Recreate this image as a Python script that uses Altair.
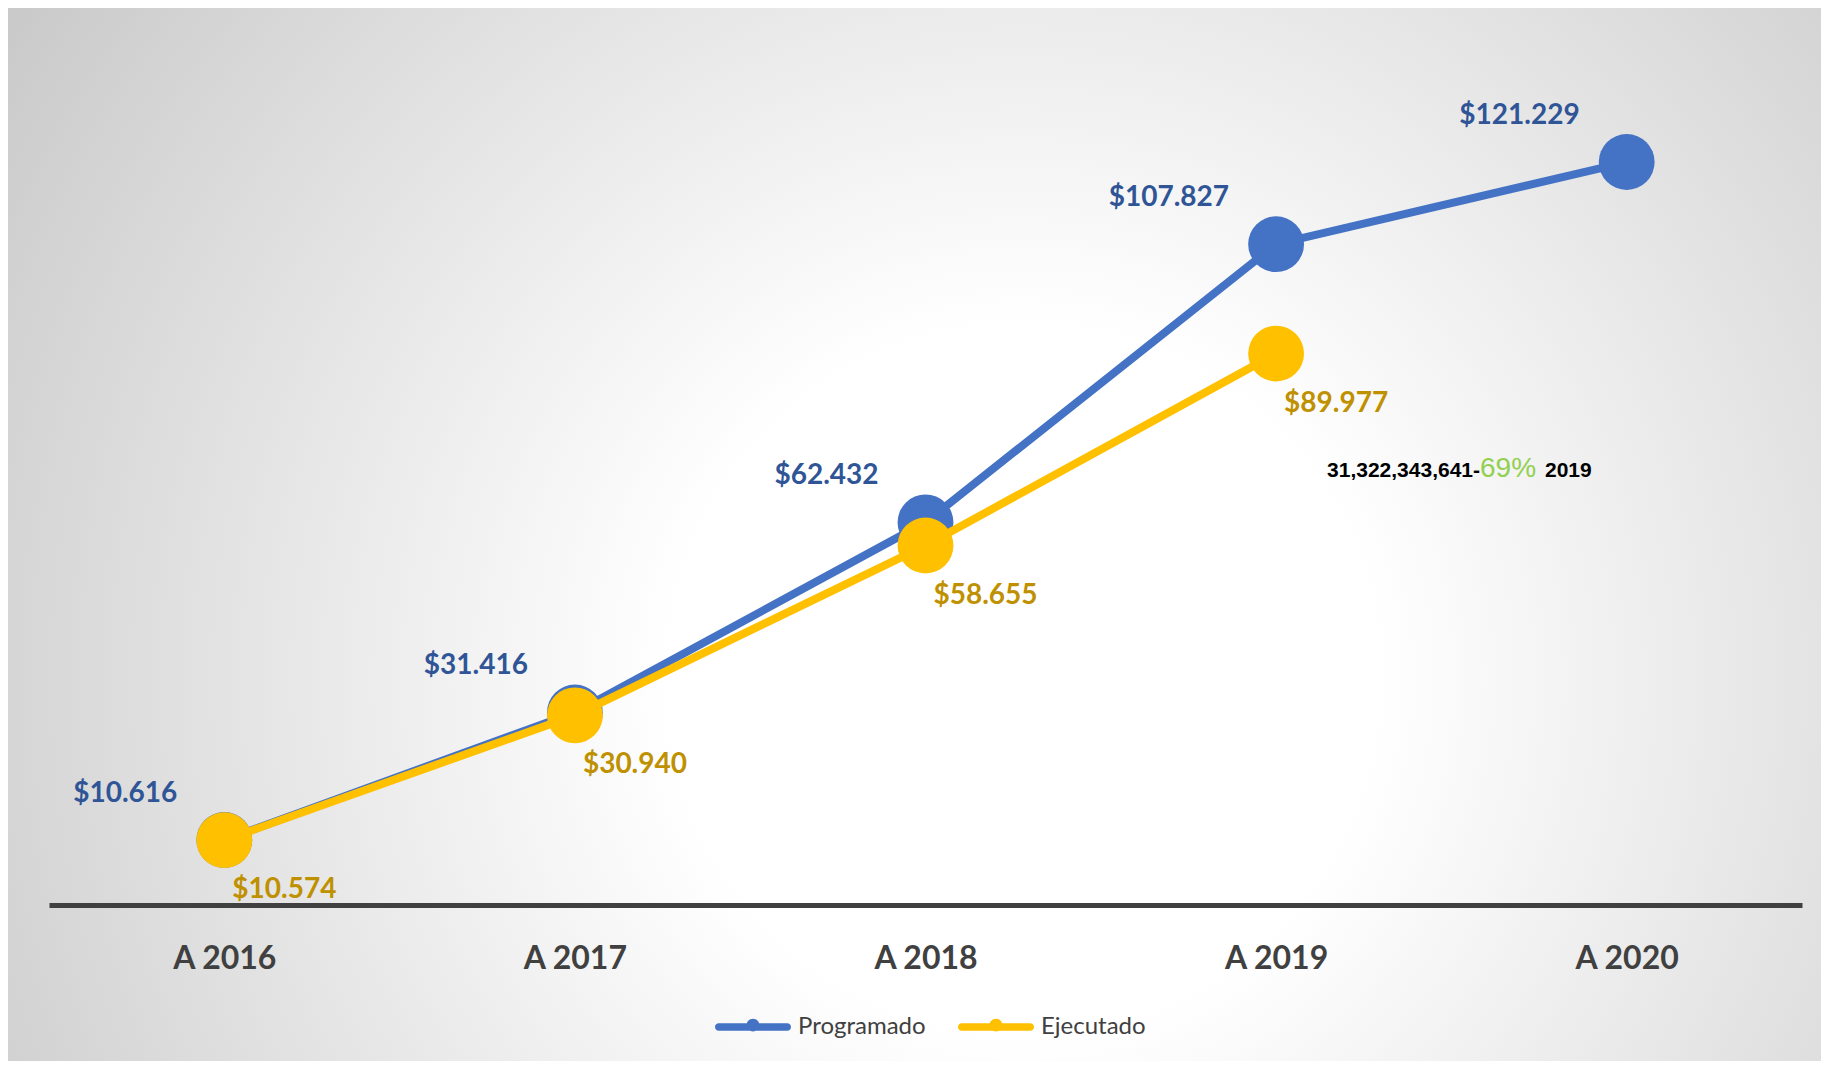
import altair as alt
import pandas as pd

years = ["A 2016", "A 2017", "A 2018", "A 2019", "A 2020"]
programado = [10.616, 31.416, 62.432, 107.827, 121.229]
ejecutado = [10.574, 30.940, 58.655, 89.977, None]
prog_labels = ["$10.616", "$31.416", "$62.432", "$107.827", "$121.229"]
ejec_labels = ["$10.574", "$30.940", "$58.655", "$89.977", None]
series = ["Programado", "Ejecutado"]
note_parts = ["31,322,343,641-", "69%", "2019"]

rows = []
for i, yr in enumerate(years):
    rows.append(dict(year=yr, serie="Programado", value=programado[i], label=prog_labels[i]))
    if ejecutado[i] is not None:
        rows.append(dict(year=yr, serie="Ejecutado", value=ejecutado[i], label=ejec_labels[i]))
df = pd.DataFrame(rows)

W, H = 1753, 858
PL, PT, PR, PB = 41, 39, 19, 156

BLUE, YELLOW = "#4472C4", "#FFC000"

xenc = alt.X("year:N", sort=years, scale=alt.Scale(type="point", padding=0.5),
             axis=alt.Axis(title=None, ticks=False, tickSize=0, domainColor="#404040", domainWidth=5,
                           labelFont="Lato", labelFontWeight="bold", labelFontSize=32,
                           labelColor="#404040", labelPadding=38, labelAngle=0, zindex=1))
yenc = alt.Y("value:Q", scale=alt.Scale(domain=[0, 140], nice=False, zero=True), axis=None)

gradient = {
    "gradient": "radial",
    "stops": [
        {"offset": 0, "color": "#ffffff"},
        {"offset": 0.25, "color": "#ffffff"},
        {"offset": 1, "color": "#bdbdbd"},
    ],
    "x1": 0.56, "y1": 0.58, "r1": 0,
    "x2": 0.56, "y2": 0.58, "r2": 0.78,
}

bg = alt.Chart(alt.Data(values=[{"a": 1}])).mark_rect(color=gradient).encode(
    x=alt.value(-PL), x2=alt.value(W + PR), y=alt.value(-PT), y2=alt.value(H + PB)
)

legend_path = ("M-0.9,-0.1 L0.9,-0.1 A0.1,0.1 0 0,1 0.9,0.1 L-0.9,0.1 A0.1,0.1 0 0,1 -0.9,-0.1 Z "
               "M-0.17,-0.05 A0.17,0.17 0 1,1 0.17,-0.05 A0.17,0.17 0 1,1 -0.17,-0.05 Z")

color = alt.Color("serie:N", scale=alt.Scale(domain=series, range=[BLUE, YELLOW]),
                  legend=alt.Legend(orient="none", legendX=666, legendY=942, direction="horizontal",
                                    title=None, symbolType=legend_path, symbolSize=5776,
                                    symbolStrokeWidth=0, labelFont="Lato", labelFontSize=24,
                                    labelColor="#404040", labelOffset=7, columnPadding=32, padding=0))

base = alt.Chart(df).encode(x=xenc, y=yenc)


def series_layers(name, col):
    f = alt.datum.serie == name
    ln = base.transform_filter(f).mark_line(color=col, strokeWidth=8, strokeCap="round", strokeJoin="round")
    pt = base.transform_filter(f).mark_circle(size=3117, opacity=1).encode(color=color)
    return ln, pt


lp, pp = series_layers("Programado", BLUE)
le, pe = series_layers("Ejecutado", YELLOW)

tp = base.transform_filter(alt.datum.serie == "Programado").mark_text(
    font="Lato", fontWeight="bold", fontSize=28, color="#2F5597", align="right",
    baseline="middle", dx=-47, dy=-46).encode(text="label:N")
te = base.transform_filter(alt.datum.serie == "Ejecutado").mark_text(
    font="Lato", fontWeight="bold", fontSize=28, color="#BF9000", align="left",
    baseline="middle", dx=8, dy=50).encode(text="label:N")

n1 = alt.Chart(alt.Data(values=[{"t": note_parts[0]}])).mark_text(
    font="Liberation Sans", fontWeight="bold", fontSize=21, color="#000000", align="right",
    baseline="alphabetic").encode(text="t:N", x=alt.value(1431), y=alt.value(430))
n2 = alt.Chart(alt.Data(values=[{"t": note_parts[1]}])).mark_text(
    font="Liberation Sans", fontSize=28, color="#92D050", align="left",
    baseline="alphabetic").encode(text="t:N", x=alt.value(1431), y=alt.value(430))
n3 = alt.Chart(alt.Data(values=[{"t": note_parts[2]}])).mark_text(
    font="Liberation Sans", fontWeight="bold", fontSize=21, color="#000000", align="left",
    baseline="alphabetic").encode(text="t:N", x=alt.value(1496), y=alt.value(430))

chart = alt.layer(bg, lp, pp, le, pe, tp, te, n1, n2, n3).properties(
    width=W, height=H,
    autosize=alt.AutoSizeParams(type="none"),
    padding={"left": PL, "top": PT, "right": PR, "bottom": PB},
    background="#d0d0d0",
).configure_view(stroke=None)

chart.save("out.html", embed_options={"renderer": "svg", "actions": False})
